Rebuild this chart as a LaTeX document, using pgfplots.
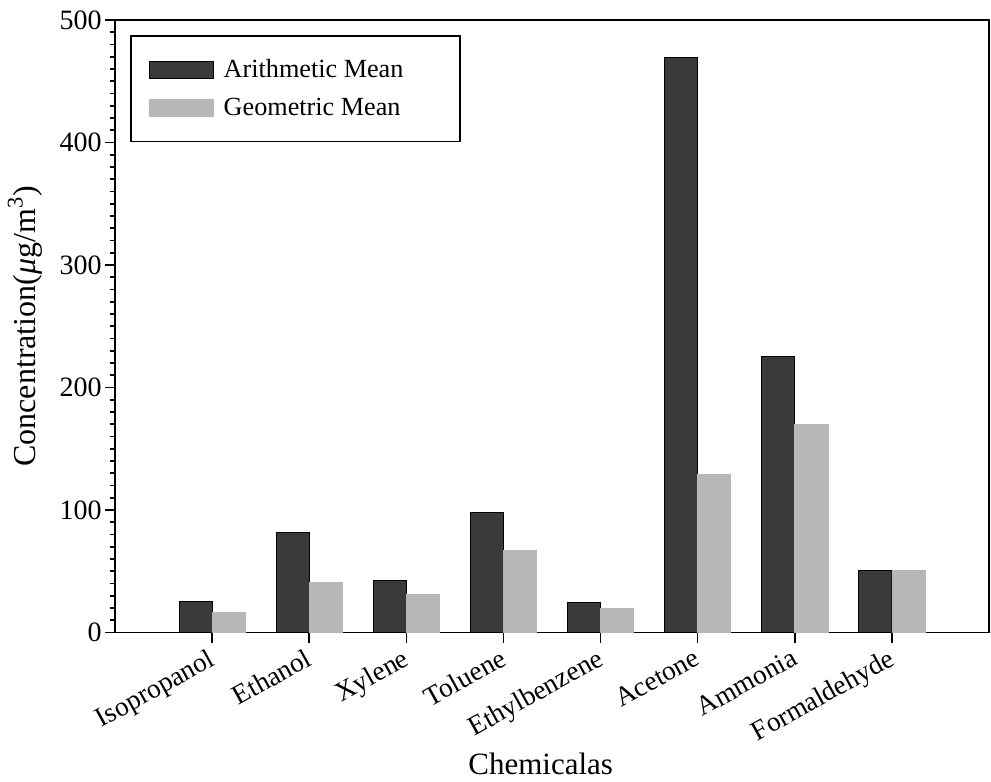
\documentclass[border=0pt]{standalone}
\usepackage{fontspec}
\setmainfont{Liberation Serif}
\usepackage{pgfplots}
\pgfplotsset{compat=1.18}
\definecolor{darkbar}{HTML}{3A3A3A}
\definecolor{lightbar}{HTML}{B7B7B7}
\begin{document}
\begin{tikzpicture}
\begin{axis}[
  scale only axis,
  width=437pt, height=306.25pt,
  xmin=0, xmax=9, ymin=0, ymax=500,
  xtick={1,2,3,4,5,6,7,8},
  xticklabels={Isopropanol,Ethanol,Xylene,Toluene,Ethylbenzene,Acetone,Ammonia,Formaldehyde},
  ytick={0,100,200,300,400,500},
  minor y tick num=9,
  tick pos=left,
  tick align=outside,
  major tick length=5pt,
  minor tick length=2.5pt,
  every tick/.style={black, line width=0.8pt},
  axis line style={line width=0.9pt},
  /pgf/number format/assume math mode=true,
  yticklabel style={font=\fontsize{14}{16}\selectfont, inner sep=1.5pt},
  xticklabel style={font=\fontsize{13.7}{16}\selectfont, xshift=-2pt, yshift=-1pt, rotate=29, anchor=north east, inner sep=1pt},
  xlabel={Chemicalas},
  xlabel style={font=\fontsize{15.5}{18}\selectfont, at={(axis description cs:0.487,-0.214)}, anchor=center},
  ylabel={Concentration({\itshape μ}g/m\textsuperscript{3})},
  ylabel style={font=\fontsize{16}{18}\selectfont, at={(axis description cs:-0.103,0.5)}, anchor=center},
  legend style={at={(axis description cs:0.0172,0.9755)}, anchor=north west, draw=black, line width=0.9pt,
    font=\fontsize{13.1}{15}\selectfont, inner xsep=9pt, inner ysep=9.5pt, row sep=5pt, cells={anchor=west},
    /tikz/every odd column/.append style={column sep=3pt}},
  legend image code/.code={\draw[#1, line width=0.4pt] (0pt,-4.25pt) rectangle (32pt,4.25pt);},
]
\addplot[ybar, bar width=0.34, bar shift=-0.17, fill=darkbar, draw=black, line width=0.5pt]
  coordinates {(1,25) (2,82) (3,42.6) (4,98) (5,24.9) (6,469) (7,225.5) (8,50.4)};
\addlegendentry{\makebox[107pt][l]{Arithmetic Mean}}
\addplot[ybar, bar width=0.34, bar shift=0.17, fill=lightbar, draw=lightbar, line width=0.3pt]
  coordinates {(1,16.5) (2,41.2) (3,31.2) (4,67.1) (5,19.7) (6,128.8) (7,170.2) (8,50.4)};
\addlegendentry{\makebox[107pt][l]{Geometric Mean}}
\coordinate (BL) at (rel axis cs:0,0);
\coordinate (TR) at (rel axis cs:1,1);
\end{axis}
\pgfresetboundingbox
\path[use as bounding box] ([xshift=-57.5pt,yshift=-74.25pt]BL) rectangle ([xshift=1pt,yshift=10pt]TR);
\end{tikzpicture}
\end{document}
